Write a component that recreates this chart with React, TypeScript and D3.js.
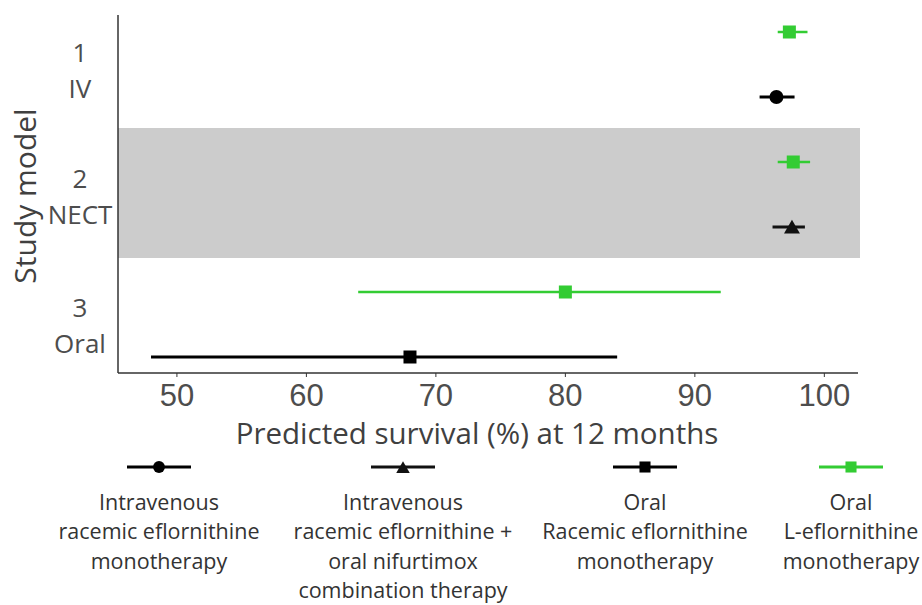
import React from "react";
import * as d3 from "d3";

const rows = ["r1", "r2", "r3", "r4", "r5", "r6"];
const estimates = [97.3, 96.3, 97.6, 97.5, 80, 68];
const lower = [96.4, 95.0, 96.4, 96.0, 64, 48];
const upper = [98.7, 97.7, 98.9, 98.5, 92, 84];
const groups = ["oralL", "ivMono", "oralL", "nect", "oralL", "oralRac"];
const xTicks = [50, 60, 70, 80, 90, 100];
const studyLabels = [["1", "IV"], ["2", "NECT"], ["3", "Oral"]];
const legendKeys = ["ivMono", "nect", "oralRac", "oralL"];
const legendLabels = [
  ["Intravenous", "racemic eflornithine", "monotherapy"],
  ["Intravenous", "racemic eflornithine +", "oral nifurtimox", "combination therapy"],
  ["Oral", "Racemic eflornithine", "monotherapy"],
  ["Oral", "L-eflornithine", "monotherapy"],
];

const colorOf: Record<string, string> = { oralL: "#33cc33", ivMono: "#000", nect: "#111", oralRac: "#000" };
const shapeOf: Record<string, string> = { oralL: "square", ivMono: "circle", nect: "triangle", oralRac: "square" };

function Marker({ g, x, y, s = 1 }: { g: string; x: number; y: number; s?: number }) {
  const c = colorOf[g];
  const shape = shapeOf[g];
  if (shape === "square") {
    const w = 13 * s;
    return <rect x={x - w / 2} y={y - w / 2} width={w} height={w} fill={c} />;
  }
  if (shape === "circle") {
    return <circle cx={x} cy={y} r={7 * s} fill={c} />;
  }
  const sym = d3.symbol(d3.symbolTriangle, 110 * s * s)();
  return <path d={sym || ""} transform={`translate(${x},${y + 2})`} fill={c} />;
}

export default function App() {
  const W = 922, H = 605;
  const left = 118, right = 858, top = 15, bottom = 373;
  const x = d3.scaleLinear().domain([45.45, 102.6]).range([left, right]);
  const y = d3.scalePoint().domain(rows).range([32, 357]);
  const gray = "#4d4d4d";
  const font = "'Open Sans', 'Noto Sans', sans-serif";
  const legendX = [159, 403, 645, 851];
  const labelBase = [[62, 98], [188, 224], [317, 353]];
  return (
    <svg width={W} height={H} style={{ position: "absolute", left: 0, top: 0, background: "#fff" }}>
      <rect x={left} y={128} width={860 - left} height={258 - 128} fill="#cccccc" />
      <line x1={left} x2={left} y1={top} y2={bottom} stroke="#333" strokeWidth={1.5} />
      <line x1={left} x2={right} y1={bottom} y2={bottom} stroke="#333" strokeWidth={1.5} />
      {xTicks.map((t) => (
        <g key={t}>
          <line x1={x(t)} x2={x(t)} y1={bottom} y2={bottom + 4} stroke="#333" strokeWidth={1} />
          <text x={x(t)} y={406} textAnchor="middle" fontSize={31} fill={gray} fontFamily="'Liberation Sans', Arial, sans-serif">{t}</text>
        </g>
      ))}
      {rows.map((r, i) => (
        <g key={r}>
          <line x1={x(lower[i])} x2={x(upper[i])} y1={y(r)!} y2={y(r)!} stroke={colorOf[groups[i]]} strokeWidth={groups[i] === "oralL" ? 2.5 : 3} />
          <Marker g={groups[i]} x={x(estimates[i])} y={y(r)!} />
        </g>
      ))}
      {studyLabels.map((lab, i) => (
        <text key={i} textAnchor="middle" fontSize={26} fill={gray} fontFamily={font}>
          <tspan x={80} y={labelBase[i][0]}>{lab[0]}</tspan>
          <tspan x={80} y={labelBase[i][1]}>{lab[1]}</tspan>
        </text>
      ))}
      <text transform={`translate(36,196) rotate(-90)`} textAnchor="middle" fontSize={30} fill="#404040" fontFamily={font}>Study model</text>
      <text x={477} y={444} textAnchor="middle" fontSize={29.5} fill="#404040" fontFamily={font}>Predicted survival (%) at 12 months</text>
      {legendKeys.map((g, i) => (
        <g key={g}>
          <line x1={legendX[i] - 32} x2={legendX[i] + 32} y1={467} y2={467} stroke={colorOf[g]} strokeWidth={3} />
          <Marker g={g} x={legendX[i]} y={467} s={0.85} />
          <text textAnchor="middle" fontSize={21.5} fill="#333" fontFamily={font}>
            {legendLabels[i].map((l, j) => (
              <tspan key={j} x={legendX[i]} y={510 + j * 29.3}>{l}</tspan>
            ))}
          </text>
        </g>
      ))}
    </svg>
  );
}
